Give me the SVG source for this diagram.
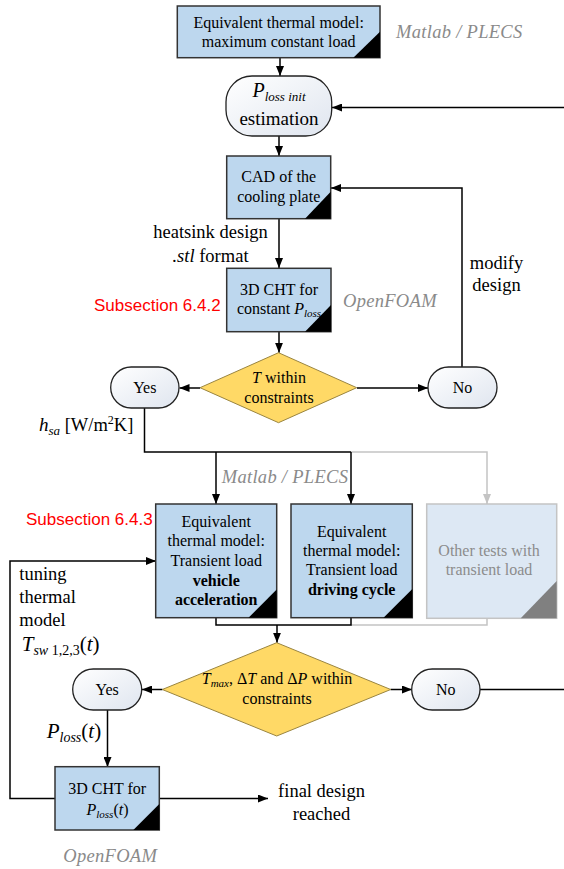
<svg xmlns="http://www.w3.org/2000/svg" width="564" height="869" viewBox="0 0 564 869" font-family="'Liberation Serif', 'Times New Roman', 'DejaVu Serif', serif">
  <style>
    text, tspan { font-family: "Liberation Serif", "Times New Roman", "DejaVu Serif", serif; }
    text { fill: #000; }
    .box { fill: #bdd7ee; stroke: #333; stroke-width: 1.5; }
    .boxg { fill: #dde8f4; stroke: #c4c4c4; stroke-width: 1.5; }
    .tri { fill: #000; }
    .trig { fill: #808080; }
    .term { fill: url(#termFill); stroke: #222; stroke-width: 1.3; }
    .dec { fill: #ffd966; stroke: #9a8540; stroke-width: 1; }
    .t16 { font-size: 16px; }
    .lbl { font-size: 18.5px; }
    .tool { font-size: 18.5px; font-style: italic; fill: #8a8a8a; letter-spacing: 0.3px; }
    text.sub { font-family: "Liberation Sans", Arial, sans-serif; font-size: 17px; fill: #ff0000; }
    .it { font-style: italic; }
    .b { font-weight: bold; }
    .ln { fill: none; stroke: #000; stroke-width: 1.5; }
    .lng { fill: none; stroke: #c4c4c4; stroke-width: 1.5; }
    .gtxt { fill: #8c8c8c; }
  </style>
  <defs>
    <linearGradient id="termFill" x1="0" y1="0" x2="1" y2="1">
      <stop offset="0" stop-color="#ffffff"/>
      <stop offset="1" stop-color="#dfe5ef"/>
    </linearGradient>
    <marker id="ah" viewBox="0 0 10 8" refX="10" refY="4" markerWidth="10" markerHeight="8" markerUnits="userSpaceOnUse" orient="auto">
      <path d="M0,0 L10,4 L0,8 z" fill="#000"/>
    </marker>
    <marker id="ahg" viewBox="0 0 10 8" refX="10" refY="4" markerWidth="10" markerHeight="8" markerUnits="userSpaceOnUse" orient="auto">
      <path d="M0,0 L10,4 L0,8 z" fill="#c4c4c4"/>
    </marker>
  </defs>

  <!-- connectors -->
  <g id="connectors">
    <path class="ln" d="M280,57.7 V76" marker-end="url(#ah)"/>
    <path class="ln" d="M564,107.5 H332" marker-end="url(#ah)"/>
    <path class="ln" d="M279,136 V156" marker-end="url(#ah)"/>
    <path class="ln" d="M279,219 V268" marker-end="url(#ah)"/>
    <path class="ln" d="M279,332 V352.7" marker-end="url(#ah)"/>
    <path class="ln" d="M200,388 H179.5" marker-end="url(#ah)"/>
    <path class="ln" d="M357,388 H428" marker-end="url(#ah)"/>
    <path class="ln" d="M462,367 V188 H331" marker-end="url(#ah)"/>
    <path class="lng" d="M351,452 H487 V504" marker-end="url(#ahg)"/>
    <path class="ln" d="M144.5,408 V452 H351"/>
    <path class="ln" d="M216,452 V504" marker-end="url(#ah)"/>
    <path class="ln" d="M351,452 V504" marker-end="url(#ah)"/>
    <path class="lng" d="M351,625 H487 V618.5"/>
    <path class="ln" d="M216,618 V625 H351 V618"/>
    <path class="ln" d="M277,625 V642.7" marker-end="url(#ah)"/>
    <path class="ln" d="M162.5,689.5 H142" marker-end="url(#ah)"/>
    <path class="ln" d="M390.5,689.5 H412" marker-end="url(#ah)"/>
    <path class="ln" d="M480,689.5 H564"/>
    <path class="ln" d="M107.5,710 V767" marker-end="url(#ah)"/>
    <path class="ln" d="M159.5,798.5 H268" marker-end="url(#ah)"/>
    <path class="ln" d="M55,798.5 H10 V561 H156" marker-end="url(#ah)"/>
  </g>

  <!-- steady-state equivalent model -->
  <g id="eq-max-load">
    <rect class="box" x="177.3" y="6" width="202.7" height="51.7"/>
    <text class="t16" x="278.7" y="28" text-anchor="middle">Equivalent thermal model:</text>
    <text class="t16" x="278.7" y="47" text-anchor="middle">maximum constant load</text>
    <path class="tri" d="M353.3,57.7 L380,57.7 L380,31.7 z"/>
  </g>
  <text class="tool" x="396" y="38">Matlab / PLECS</text>

  <g id="ploss-init">
    <rect class="term" x="226" y="76" width="105.7" height="60" rx="26" ry="26"/>
    <text x="279" y="97" text-anchor="middle" font-size="20"><tspan class="it">P</tspan><tspan class="it" font-size="13" dy="4">loss init</tspan></text>
    <text x="279" y="125" text-anchor="middle" font-size="19">estimation</text>
  </g>

  <g id="cad">
    <rect class="box" x="226.7" y="156" width="104" height="62.7"/>
    <text class="t16" x="278.7" y="182.3" text-anchor="middle">CAD of the</text>
    <text class="t16" x="278.7" y="202.3" text-anchor="middle">cooling plate</text>
    <path class="tri" d="M305,218.7 L330.7,218.7 L330.7,191.7 z"/>
  </g>
  <text class="lbl" x="210.5" y="238.3" text-anchor="middle">heatsink design</text>
  <text class="lbl" x="210.5" y="261.7" text-anchor="middle"><tspan class="it">.stl</tspan> format</text>
  <text class="lbl" x="496.5" y="269.3" text-anchor="middle">modify</text>
  <text class="lbl" x="496.5" y="290.5" text-anchor="middle">design</text>

  <g id="cht-const">
    <rect class="box" x="226.7" y="268.3" width="104.3" height="63.4"/>
    <text class="t16" x="279" y="295" text-anchor="middle">3D CHT for</text>
    <text class="t16" x="279" y="314.3" text-anchor="middle">constant <tspan class="it">P</tspan><tspan class="it" font-size="11" dy="3">loss</tspan></text>
    <path class="tri" d="M305,331.7 L331,331.7 L331,305 z"/>
  </g>
  <text class="sub" x="94" y="311">Subsection 6.4.2</text>
  <text class="tool" x="343" y="306.7">OpenFOAM</text>

  <g id="check-temp">
    <path class="dec" d="M278.5,352.7 L356.7,387.7 L278.5,422.7 L200,387.7 z"/>
    <text class="t16" x="279" y="382.7" text-anchor="middle"><tspan class="it">T</tspan> within</text>
    <text class="t16" x="279" y="403" text-anchor="middle">constraints</text>
  </g>

  <g id="yes-1">
    <rect class="term" x="110.7" y="367" width="68.3" height="41" rx="20.5" ry="20.5"/>
    <text class="t16" x="144.8" y="393" text-anchor="middle">Yes</text>
  </g>
  <g id="no-1">
    <rect class="term" x="428" y="367" width="69" height="41" rx="20.5" ry="20.5"/>
    <text class="t16" x="462.5" y="393" text-anchor="middle">No</text>
  </g>
  <text x="39" y="431" font-size="18.5"><tspan class="it" font-size="19">h</tspan><tspan class="it" font-size="13" dy="4">sa</tspan><tspan dy="-4"> [W/m</tspan><tspan font-size="12" dy="-7">2</tspan><tspan dy="7">K]</tspan></text>

  <text class="tool" x="221.7" y="483.3">Matlab / PLECS</text>
  <text class="sub" x="26" y="525">Subsection 6.4.3</text>

  <g id="eq-vehicle-accel">
    <rect class="box" x="155.7" y="504" width="121" height="113.7"/>
    <text class="t16" x="216.2" y="527.3" text-anchor="middle">Equivalent</text>
    <text class="t16" x="216.2" y="546.3" text-anchor="middle">thermal model:</text>
    <text class="t16" x="216.2" y="565.5" text-anchor="middle">Transient load</text>
    <text class="t16 b" x="216.2" y="585.7" text-anchor="middle">vehicle</text>
    <text class="t16 b" x="216.2" y="605" text-anchor="middle">acceleration</text>
    <path class="tri" d="M248.5,617.7 L276.7,617.7 L276.7,589.5 z"/>
  </g>

  <g id="eq-driving-cycle">
    <rect class="box" x="291" y="504" width="121.3" height="113.7"/>
    <text class="t16" x="351.7" y="536.7" text-anchor="middle">Equivalent</text>
    <text class="t16" x="351.7" y="555.7" text-anchor="middle">thermal model:</text>
    <text class="t16" x="351.7" y="575" text-anchor="middle">Transient load</text>
    <text class="t16 b" x="351.7" y="595" text-anchor="middle">driving cycle</text>
    <path class="tri" d="M383.5,617.7 L412.3,617.7 L412.3,589 z"/>
  </g>

  <g id="other-tests">
    <rect class="boxg" x="426.7" y="504" width="130" height="114.3"/>
    <text class="t16 gtxt" x="489" y="556" text-anchor="middle">Other tests with</text>
    <text class="t16 gtxt" x="489" y="575" text-anchor="middle">transient load</text>
    <path class="trig" d="M520.7,618.3 L556.7,618.3 L556.7,581 z"/>
  </g>

  <text class="lbl" x="19.3" y="580">tuning</text>
  <text class="lbl" x="19.3" y="603">thermal</text>
  <text class="lbl" x="19.3" y="625.5">model</text>
  <text x="21.7" y="650.7" font-size="21"><tspan class="it">T</tspan><tspan font-size="14" dy="4"><tspan class="it">sw</tspan> 1,2,3</tspan><tspan dy="-4">(</tspan><tspan class="it">t</tspan>)</text>

  <g id="check-transient">
    <path class="dec" d="M276.7,642.7 L390.7,689.5 L276.7,736 L162.3,689.5 z"/>
    <text class="t16" x="277" y="684" text-anchor="middle"><tspan class="it">T</tspan><tspan class="it" font-size="11" dy="3">max</tspan><tspan dy="-3">, Δ</tspan><tspan class="it">T</tspan> and Δ<tspan class="it">P</tspan> within</text>
    <text class="t16" x="277" y="704" text-anchor="middle">constraints</text>
  </g>

  <g id="yes-2">
    <rect class="term" x="72.7" y="669" width="69" height="41" rx="20.5" ry="20.5"/>
    <text class="t16" x="107.2" y="694.5" text-anchor="middle">Yes</text>
  </g>
  <g id="no-2">
    <rect class="term" x="411.7" y="669" width="68.3" height="41" rx="20.5" ry="20.5"/>
    <text class="t16" x="445.8" y="694.5" text-anchor="middle">No</text>
  </g>

  <text x="46.7" y="738.3" font-size="21"><tspan class="it">P</tspan><tspan class="it" font-size="14" dy="4">loss</tspan><tspan dy="-4">(</tspan><tspan class="it">t</tspan>)</text>

  <g id="cht-transient">
    <rect class="box" x="55" y="766.7" width="104.3" height="63.3"/>
    <text class="t16" x="107.2" y="794.3" text-anchor="middle">3D CHT for</text>
    <text class="t16" x="107.5" y="815" text-anchor="middle"><tspan class="it">P</tspan><tspan class="it" font-size="11" dy="3">loss</tspan><tspan dy="-3">(</tspan><tspan class="it">t</tspan>)</text>
    <path class="tri" d="M133.3,830 L159.3,830 L159.3,804 z"/>
  </g>
  <text class="lbl" x="321.5" y="796.7" text-anchor="middle">final design</text>
  <text class="lbl" x="321.5" y="820" text-anchor="middle">reached</text>
  <text class="tool" x="63.3" y="861.7">OpenFOAM</text>
</svg>
